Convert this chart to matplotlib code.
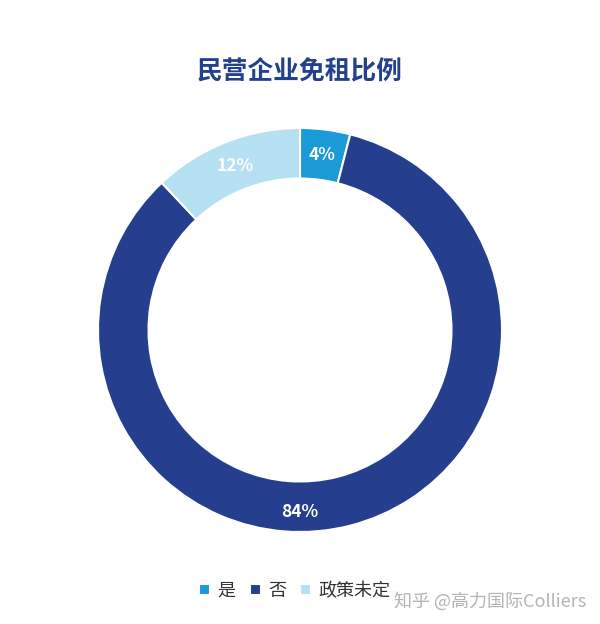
import matplotlib
matplotlib.use("Agg")
import matplotlib.pyplot as plt

plt.rcParams['font.family'] = ['Noto Sans CJK SC', 'DejaVu Sans']

labels = ['是', '否', '政策未定']
values = [4, 84, 12]
colors = ['#1a9ad6', '#253f8e', '#b6e1f3']
title = '民营企业免租比例'

fig = plt.figure(figsize=(6, 6.24), dpi=100)
ax = fig.add_axes([98 / 600, 92 / 624, 404 / 600, 404 / 624])

wedges, texts = ax.pie(values, colors=colors, startangle=90, counterclock=False,
                       radius=1, wedgeprops=dict(width=0.25, edgecolor='white', linewidth=1.5),
                       labels=[f'{v}%' for v in values], labeldistance=0.875,
                       textprops=dict(color='white', fontsize=12.5, fontweight='bold'))
for t in texts:
    t.set_ha('center')
    t.set_va('center')
# the big slice's label sits at the bottom of the ring in the original
texts[1].set_position((0, -0.9))

ax.set_xlim(-1, 1)
ax.set_ylim(-1, 1)
ax.set_aspect('equal')
ax.axis('off')

fig.text(0.5, 1 - 72 / 624, title, ha='center', va='center', fontsize=18.5,
         fontweight='bold', color='#23408e')

leg = fig.legend(wedges, labels, loc='center', bbox_to_anchor=(295 / 600, 1 - 591 / 624),
                 ncol=3, frameon=False, fontsize=13, handlelength=0.6, handleheight=0.6,
                 handletextpad=0.4, columnspacing=0.8)
for t in leg.get_texts():
    t.set_color('#333333')

fig.text(586 / 600, 1 - 601 / 624, '知乎 @高力国际Colliers', ha='right', va='center',
         fontsize=13, color='#b4b4b4')

fig.savefig('out.png', dpi=100, facecolor='white')
